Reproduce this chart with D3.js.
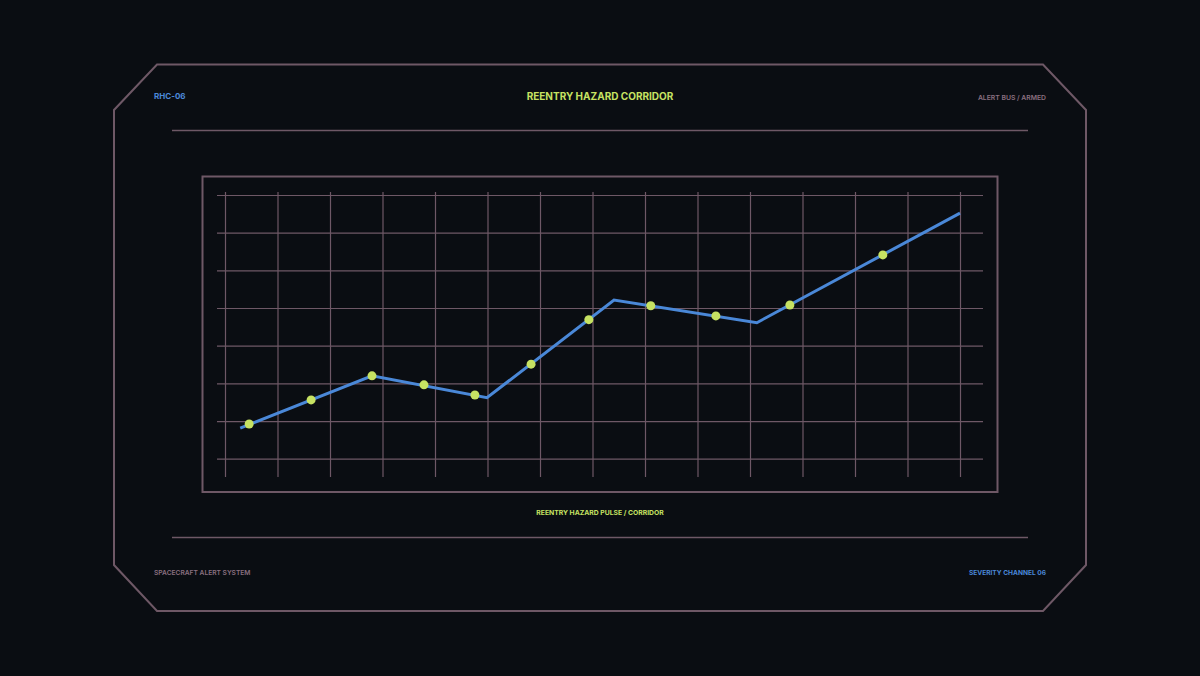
<!DOCTYPE html>
<html>
<head>
<meta charset="utf-8">
<script src="https://cdn.jsdelivr.net/npm/d3@7"></script>
<style>
  html, body { margin: 0; padding: 0; background: #0a0d12; }
  svg { display: block; }
</style>
</head>
<body>
<svg id="chart" width="1200" height="676"></svg>
<script>
// ---- data (x in grid-column units, y in grid-row units) ----
const lineX   = [0.29, 2.80, 4.99, 7.41, 10.13, 14.0];
const lineY   = [1.81, 3.20, 2.62, 5.21, 4.61, 7.52];
const pointX  = [0.46, 1.64, 2.80, 3.79, 4.76, 5.83, 6.93, 8.11, 9.35, 10.76, 12.53];
const pointY  = [1.92, 2.56, 3.20, 2.96, 2.69, 3.51, 4.69, 5.06, 4.79, 5.08, 6.41];
const xGridTicks = d3.range(0, 15);   // 15 vertical grid lines
const yGridTicks = d3.range(1, 9);    // 8 horizontal grid lines

const titleText    = "REENTRY HAZARD CORRIDOR";
const idText       = "RHC-06";
const statusText   = "ALERT BUS / ARMED";
const captionText  = "REENTRY HAZARD PULSE / CORRIDOR";
const systemText   = "SPACECRAFT ALERT SYSTEM";
const channelText  = "SEVERITY CHANNEL 06";

// ---- styles ----
const BG = "#0a0d12";
const FRAME = "#6e5866";
const GRID = "#6e5866";
const BLUE = "#4a88d8";
const LIME = "#c6e262";
const MAUVE_TXT = "#8a7080";
const FONT = "Inter, 'DejaVu Sans', sans-serif";

const svg = d3.select("#chart");
svg.append("rect").attr("width", 1200).attr("height", 676).attr("fill", BG);

// outer chamfered frame
const frame = [[157,64.5],[1043,64.5],[1086,110],[1086,565],[1043,611],[157,611],[114,565],[114,110]];
svg.append("path")
  .attr("d", d3.line()(frame) + "Z")
  .attr("fill", "none").attr("stroke", FRAME).attr("stroke-width", 2);

// separators
svg.append("line").attr("x1",172).attr("x2",1028).attr("y1",130.5).attr("y2",130.5)
  .attr("stroke", FRAME).attr("stroke-width", 1.5);
svg.append("line").attr("x1",172).attr("x2",1028).attr("y1",537.5).attr("y2",537.5)
  .attr("stroke", FRAME).attr("stroke-width", 1.5);

// header / footer text
svg.append("text").attr("x",154).attr("y",99).text(idText)
  .attr("fill", BLUE).attr("font-family", FONT).attr("font-size", 8).attr("font-weight", 700);
svg.append("text").attr("x",600).attr("y",99.5).attr("text-anchor","middle").text(titleText)
  .attr("fill", LIME).attr("font-family", FONT).attr("font-size", 10).attr("font-weight", 700);
svg.append("text").attr("x",1046).attr("y",99.5).attr("text-anchor","end").text(statusText)
  .attr("fill", MAUVE_TXT).attr("font-family", FONT).attr("font-size", 6.8).attr("font-weight", 600);
svg.append("text").attr("x",600).attr("y",514.5).attr("text-anchor","middle").text(captionText)
  .attr("fill", LIME).attr("font-family", FONT).attr("font-size", 6.8).attr("font-weight", 700);
svg.append("text").attr("x",154).attr("y",575).text(systemText)
  .attr("fill", MAUVE_TXT).attr("font-family", FONT).attr("font-size", 6.65).attr("font-weight", 600);
svg.append("text").attr("x",1046).attr("y",575).attr("text-anchor","end").text(channelText)
  .attr("fill", BLUE).attr("font-family", FONT).attr("font-size", 6.6).attr("font-weight", 700);

// inner chart box
svg.append("rect").attr("x",202.5).attr("y",176.5).attr("width",795).attr("height",315.5)
  .attr("fill","none").attr("stroke", FRAME).attr("stroke-width", 2);

// scales
const x = d3.scaleLinear().domain([0, 14]).range([225, 960]);
const y = d3.scaleLinear().domain([1, 8]).range([458.7, 195]);

// grid via axes
const gx = svg.append("g").attr("transform", "translate(0,477)")
  .call(d3.axisBottom(x).tickValues(xGridTicks).tickSize(-285).tickFormat(""));
const gy = svg.append("g").attr("transform", "translate(217,0)")
  .call(d3.axisLeft(y).tickValues(yGridTicks).tickSize(-766).tickFormat(""));
[gx, gy].forEach(g => {
  g.select(".domain").remove();
  g.selectAll(".tick line").attr("stroke", GRID).attr("stroke-width", 1.2);
});

// line
const lineData = lineX.map((v, i) => [v, lineY[i]]);
svg.append("path")
  .datum(lineData)
  .attr("d", d3.line().x(d => x(d[0])).y(d => y(d[1])))
  .attr("fill", "none").attr("stroke", BLUE).attr("stroke-width", 3)
  .attr("stroke-linejoin", "miter");

// points
const pts = pointX.map((v, i) => [v, pointY[i]]);
svg.append("g").selectAll("circle").data(pts).join("circle")
  .attr("cx", d => x(d[0])).attr("cy", d => y(d[1])).attr("r", 4.5)
  .attr("fill", LIME);
</script>
</body>
</html>
